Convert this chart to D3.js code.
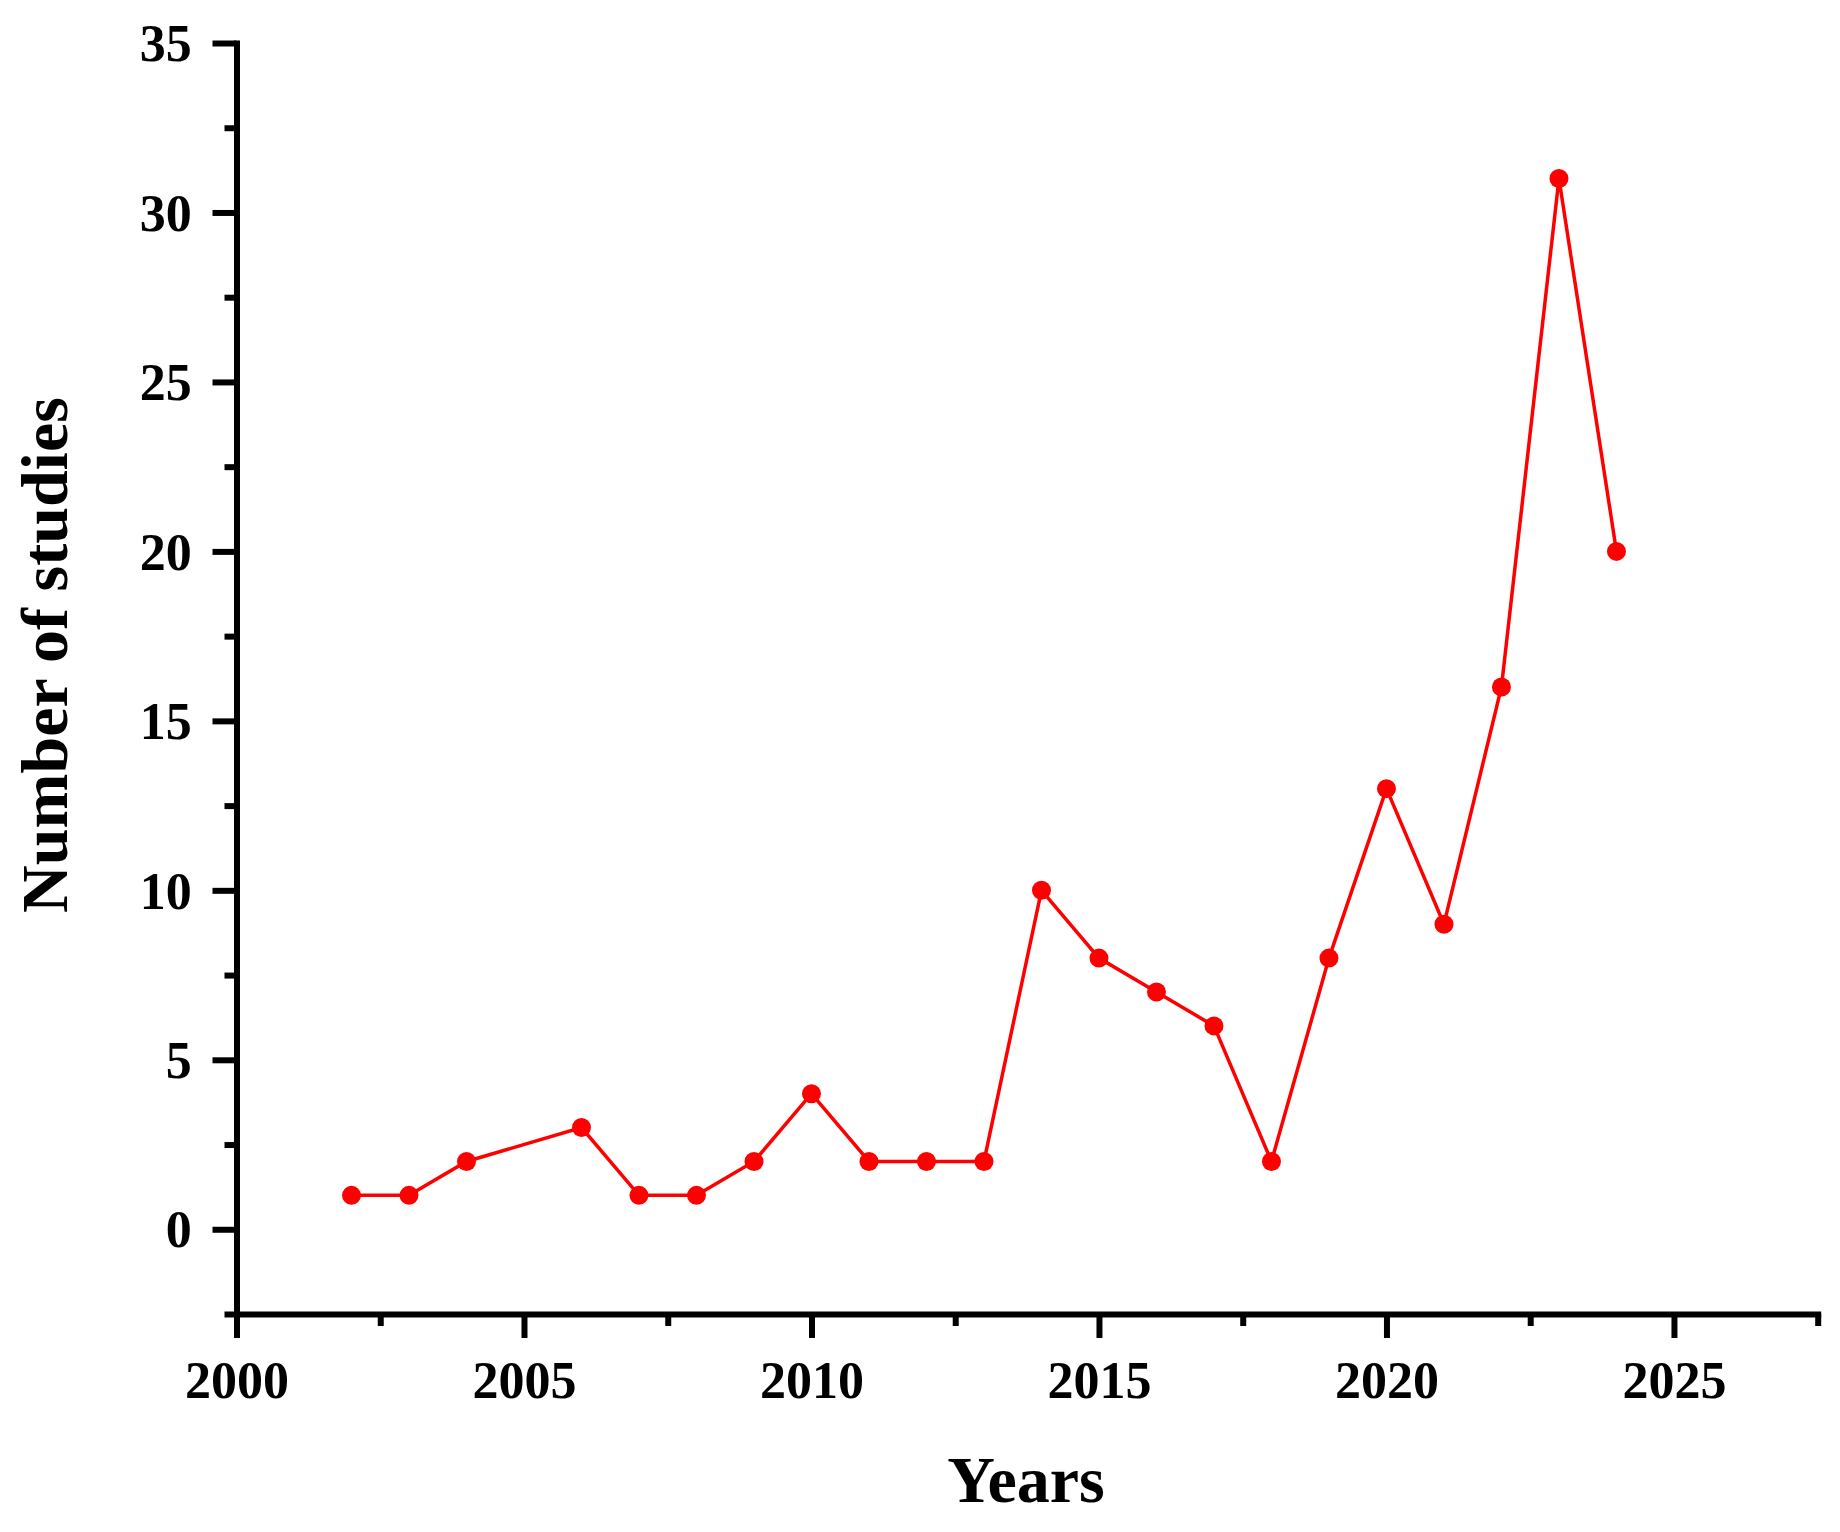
<!DOCTYPE html>
<html>
<head>
<meta charset="utf-8">
<script src="https://cdn.jsdelivr.net/npm/d3@7"></script>
<style>
  html, body { margin: 0; padding: 0; background: #fff; }
  svg { display: block; }
  text { font-family: "Liberation Serif", "Times New Roman", serif; font-weight: bold; fill: #000; }
</style>
</head>
<body>
<script>
const years = [2002, 2003, 2004, 2006, 2007, 2008, 2009, 2010, 2011, 2012, 2013, 2014, 2015, 2016, 2017, 2018, 2019, 2020, 2021, 2022, 2023, 2024];
const studies = [1, 1, 2, 3, 1, 1, 2, 4, 2, 2, 2, 10, 8, 7, 6, 2, 8, 13, 9, 16, 31, 20];
const xMajorTicks = [2000, 2005, 2010, 2015, 2020, 2025];
const xMinorTicks = [2002.5, 2007.5, 2012.5, 2017.5, 2022.5, 2027.5];
const yMajorTicks = [0, 5, 10, 15, 20, 25, 30, 35];
const yMinorTicks = [-2.5, 2.5, 7.5, 12.5, 17.5, 22.5, 27.5, 32.5];
const xTitle = "Years";
const yTitle = "Number of studies";

const W = 1840, H = 1532;
const svg = d3.select("body").append("svg").attr("width", W).attr("height", H);

const x = d3.scaleLinear().domain([2000, 2027.5]).range([236.5, 1817.7]);
const y = d3.scaleLinear().domain([-2.5, 35]).range([1314, 43]);

const axisW = 6;

// X axis
const gx = svg.append("g").attr("transform", `translate(0,${y(-2.5)})`);
gx.call(d3.axisBottom(x).tickValues(xMinorTicks).tickSize(12).tickSizeOuter(0).tickFormat(""));
gx.selectAll(".tick line").attr("stroke-width", axisW).attr("stroke", "#000");
gx.select(".domain").attr("stroke-width", axisW).attr("stroke-linecap", "square");
const gx2 = svg.append("g").attr("transform", `translate(0,${y(-2.5)})`);
gx2.call(d3.axisBottom(x).tickValues(xMajorTicks).tickSize(24).tickSizeOuter(0).tickPadding(10).tickFormat(d3.format("d")));
gx2.selectAll(".tick line").attr("stroke-width", axisW).attr("stroke", "#000");
gx2.selectAll(".tick text").attr("font-size", 52).attr("dy", 0).attr("y", 1398 - 1314);
gx2.select(".domain").remove();

// Y axis
const gy = svg.append("g").attr("transform", `translate(${x(2000)},0)`);
gy.call(d3.axisLeft(y).tickValues(yMinorTicks).tickSize(12).tickSizeOuter(0).tickFormat(""));
gy.selectAll(".tick line").attr("stroke-width", axisW).attr("stroke", "#000");
gy.select(".domain").attr("stroke-width", axisW).attr("stroke-linecap", "square");
const gy2 = svg.append("g").attr("transform", `translate(${x(2000)},0)`);
gy2.call(d3.axisLeft(y).tickValues(yMajorTicks).tickSize(24).tickSizeOuter(0).tickPadding(20).tickFormat(d3.format("d")));
gy2.select(".domain").remove();
gy2.selectAll(".tick line").attr("stroke-width", axisW).attr("stroke", "#000");
gy2.selectAll(".tick text").attr("font-size", 52).attr("dy", "0.34em").attr("x", 191.7 - x(2000));

// Axis titles
svg.append("text").attr("x", 1026).attr("y", 1502).attr("text-anchor", "middle")
  .attr("font-size", 66).text(xTitle);
svg.append("text").attr("transform", `translate(67,655) rotate(-90)`).attr("text-anchor", "middle")
  .attr("font-size", 66).text(yTitle);

// Data
const data = years.map((yr, i) => ({ yr, v: studies[i] }));
svg.append("path").datum(data)
  .attr("fill", "none").attr("stroke", "#ff0000").attr("stroke-width", 3.5)
  .attr("d", d3.line().x(d => x(d.yr)).y(d => y(d.v)));
svg.append("g").selectAll("circle").data(data).join("circle")
  .attr("cx", d => x(d.yr)).attr("cy", d => y(d.v)).attr("r", 9.5).attr("fill", "#ff0000");
</script>
</body>
</html>
